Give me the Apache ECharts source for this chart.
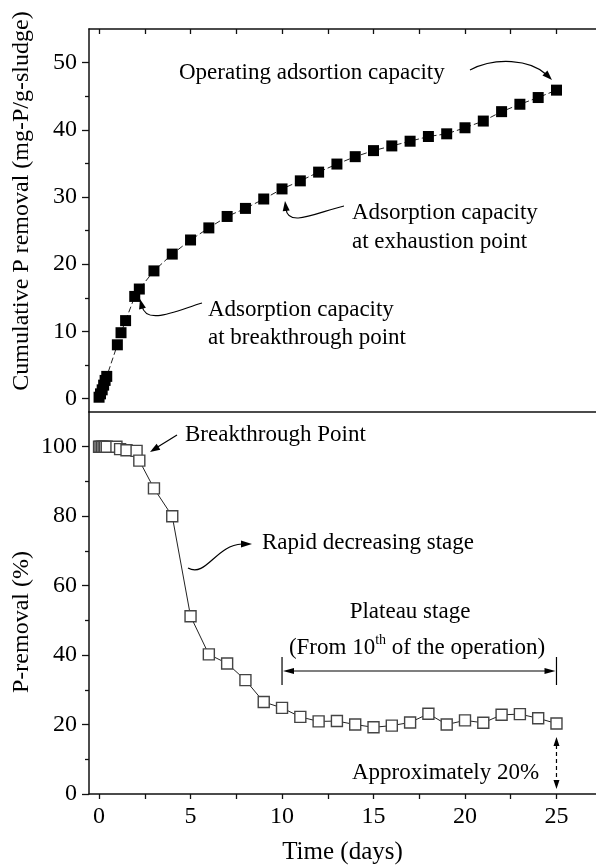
<!DOCTYPE html>
<html>
<head>
<meta charset="utf-8">
<script src="https://cdn.jsdelivr.net/npm/echarts@6/dist/echarts.min.js"></script>
<style>
  html, body { margin: 0; padding: 0; background: #fff; }
  #main { width: 596px; height: 865px; }
</style>
</head>
<body>
<div id="main"></div>
<script>
// cumulative P removal (top panel)
var capDays = [0, 0.08, 0.17, 0.25, 0.33, 0.42, 1, 1.2, 1.45, 1.95, 2.2, 3, 4, 5, 6, 7, 8, 9, 10, 11, 12, 13, 14, 15, 16, 17, 18, 19, 20, 21, 22, 23, 24, 25];
var capValues = [0.2, 0.7, 1.3, 2.0, 2.7, 3.3, 8.0, 9.8, 11.6, 15.2, 16.3, 19.0, 21.5, 23.6, 25.4, 27.1, 28.3, 29.7, 31.2, 32.4, 33.7, 34.9, 36.0, 36.9, 37.6, 38.3, 39.0, 39.4, 40.3, 41.3, 42.7, 43.8, 44.8, 45.9];
// P removal % (bottom panel)
var remDays = [0, 0.08, 0.17, 0.25, 0.33, 0.42, 0.95, 1.15, 1.5, 2.05, 2.2, 3, 4, 5, 6, 7, 8, 9, 10, 11, 12, 13, 14, 15, 16, 17, 18, 19, 20, 21, 22, 23, 24, 25];
var remValues = [100, 100, 100, 100, 100, 100, 100, 99.3, 99, 98.8, 96, 88, 80, 51.2, 40.2, 37.6, 32.8, 26.5, 24.8, 22.2, 20.9, 21.0, 20.0, 19.2, 19.7, 20.6, 23.1, 20.0, 21.2, 20.5, 22.8, 23.0, 21.8, 20.3];

var xLabelValues = [0, 5, 10, 15, 20, 25];
var xTickValues = [0, 2.5, 5, 7.5, 10, 12.5, 15, 17.5, 20, 22.5, 25];
var capMajor = [0, 10, 20, 30, 40, 50];
var capMinor = [5, 15, 25, 35, 45];
var remMajor = [0, 20, 40, 60, 80, 100];
var remMinor = [10, 30, 50, 70, 90];

var FONT = "'Liberation Serif', 'Times New Roman', serif";
var LINE = { show: true, onZero: false, lineStyle: { color: '#111', width: 1.5 } };
var TICK = { color: '#111', width: 1.3 };

var chart = echarts.init(document.getElementById('main'));

function pairs(xs, ys) {
  return xs.map(function (x, i) { return [x, ys[i]]; });
}

function majorY(grid, min, max, vals) {
  return {
    type: 'value', gridIndex: grid, position: 'left', min: min, max: max,
    axisLine: LINE,
    axisTick: { show: true, inside: false, length: 7, customValues: vals, lineStyle: TICK },
    axisLabel: { show: true, customValues: vals, margin: 12, color: '#000', fontFamily: FONT, fontSize: 24 },
    splitLine: { show: false }
  };
}
function minorY(grid, min, max, vals) {
  return {
    type: 'value', gridIndex: grid, position: 'left', min: min, max: max,
    axisLine: { show: false, onZero: false },
    axisTick: { show: true, inside: false, length: 4, customValues: vals, lineStyle: TICK },
    axisLabel: { show: false },
    splitLine: { show: false }
  };
}

var option = {
  animation: false,
  backgroundColor: '#fff',
  grid: [
    { left: 89, right: 0, top: 29, height: 383, outerBoundsMode: 'none', containLabel: false },
    { left: 89, right: 0, top: 412, height: 382, outerBoundsMode: 'none', containLabel: false }
  ],
  xAxis: [
    { // top border of upper panel
      type: 'value', gridIndex: 0, position: 'top', min: -0.55, max: 27.16,
      axisLine: LINE,
      axisTick: { show: true, inside: true, length: 5, customValues: xTickValues, lineStyle: TICK },
      axisLabel: { show: false }, splitLine: { show: false }
    },
    { // separator
      type: 'value', gridIndex: 0, position: 'bottom', min: -0.55, max: 27.16,
      axisLine: LINE, axisTick: { show: false }, axisLabel: { show: false }, splitLine: { show: false }
    },
    { // time axis
      type: 'value', gridIndex: 1, position: 'bottom', min: -0.55, max: 27.16,
      name: 'Time (days)', nameLocation: 'middle', nameGap: 46,
      nameTextStyle: { color: '#000', fontFamily: FONT, fontSize: 25 },
      axisLine: LINE,
      axisTick: { show: true, inside: false, length: 5, customValues: xTickValues, lineStyle: TICK },
      axisLabel: { show: true, customValues: xLabelValues, margin: 11, color: '#000', fontFamily: FONT, fontSize: 24 },
      splitLine: { show: false }
    }
  ],
  yAxis: [
    majorY(0, -2, 55, capMajor),
    minorY(0, -2, 55, capMinor),
    majorY(1, 0, 110, remMajor),
    minorY(1, 0, 110, remMinor)
  ],
  series: [
    {
      name: 'Cumulative P removal', type: 'line', xAxisIndex: 0, yAxisIndex: 0,
      data: pairs(capDays, capValues),
      symbol: 'rect', symbolSize: 11, showAllSymbol: true,
      itemStyle: { color: '#000' },
      lineStyle: { color: '#222', width: 1, type: [6, 3] },
      z: 3
    },
    {
      name: 'P-removal', type: 'line', xAxisIndex: 2, yAxisIndex: 2,
      data: pairs(remDays, remValues),
      symbol: 'rect', symbolSize: 11, showAllSymbol: true,
      itemStyle: { color: '#fff', borderColor: '#444', borderWidth: 1.4 },
      lineStyle: { color: '#222', width: 1 },
      z: 3
    }
  ]
};
chart.setOption(option);

// ---- annotations ----
function head(tx, ty, ang, len, w) {
  var bx = tx - Math.cos(ang) * len, by = ty - Math.sin(ang) * len;
  var nx = -Math.sin(ang) * w, ny = Math.cos(ang) * w;
  return { type: 'polygon', z: 10, shape: { points: [[tx, ty], [bx + nx, by + ny], [bx - nx, by - ny]] }, style: { fill: '#000' } };
}
function curve(x1, y1, c1x, c1y, c2x, c2y, x2, y2) {
  return { type: 'bezierCurve', z: 10, shape: { x1: x1, y1: y1, cpx1: c1x, cpy1: c1y, cpx2: c2x, cpy2: c2y, x2: x2, y2: y2 },
    style: { stroke: '#000', lineWidth: 1.2, fill: 'none' } };
}
function seg(x1, y1, x2, y2, dash) {
  return { type: 'line', z: 10, shape: { x1: x1, y1: y1, x2: x2, y2: y2 },
    style: { stroke: '#000', lineWidth: 1.2, lineDash: dash || null } };
}
function txt(x, y, s, align) {
  return { type: 'text', z: 10, x: x, y: y,
    style: { text: s, fill: '#000', font: '23px ' + FONT, textAlign: align || 'left', textVerticalAlign: 'middle' } };
}

var a10 = chart.convertToPixel({ xAxisIndex: 2, yAxisIndex: 2 }, [10, 0])[0];
var a25 = chart.convertToPixel({ xAxisIndex: 2, yAxisIndex: 2 }, [25, 0])[0];

var g = [];
// axis titles
g.push({ type: 'text', z: 10, x: 22, y: 201, rotation: Math.PI / 2,
  style: { text: 'Cumulative P removal (mg-P/g-sludge)', fill: '#000', font: '24px ' + FONT, textAlign: 'center', textVerticalAlign: 'middle' } });
g.push({ type: 'text', z: 10, x: 22, y: 622, rotation: Math.PI / 2,
  style: { text: 'P-removal (%)', fill: '#000', font: '24px ' + FONT, textAlign: 'center', textVerticalAlign: 'middle' } });

// operating capacity
g.push(txt(179, 73, 'Operating adsortion capacity'));
g.push(curve(470, 70, 495, 57, 530, 59, 547, 75));
g.push(head(552, 80, Math.PI / 4, 10, 3.5));

// exhaustion point
g.push(txt(352, 213, 'Adsorption capacity'));
g.push(txt(352, 242, 'at exhaustion point'));
g.push(curve(344, 206, 318, 212, 288, 228, 286, 209));
g.push(head(285, 201, -Math.PI / 2 - 0.12, 10, 3.5));

// breakthrough capacity
g.push(txt(208, 310, 'Adsorption capacity'));
g.push(txt(208, 338, 'at breakthrough point'));
g.push(curve(202, 303, 178, 310, 146, 326, 142, 306));
g.push(head(140, 299, -Math.PI / 2 - 0.25, 10, 3.5));

// breakthrough point
g.push(txt(185, 435, 'Breakthrough Point'));
g.push(seg(177, 435, 156, 448));
g.push(head(150, 452, Math.atan2(452 - 435, 150 - 177), 10, 3.5));

// rapid decreasing
g.push(txt(262, 543, 'Rapid decreasing stage'));
g.push(curve(188, 568, 206, 578, 216, 545, 242, 544));
g.push(head(252, 544, 0, 11, 3.5));

// plateau
g.push(txt(410, 612, 'Plateau stage', 'center'));
g.push({ type: 'text', z: 10, x: 417, y: 648, style: {
  text: '(From 10{sup|th} of the operation)', fill: '#000', font: '23px ' + FONT,
  textAlign: 'center', textVerticalAlign: 'middle', lineHeight: 30,
  rich: { sup: { fontSize: 14, fontFamily: FONT, verticalAlign: 'top', lineHeight: 30, fill: '#000' } } } });
g.push(seg(a10, 657, a10, 685));
g.push(seg(a25, 657, a25, 685));
g.push(seg(a10 + 8, 671, a25 - 8, 671));
g.push(head(a10 + 1, 671, Math.PI, 11, 3));
g.push(head(a25 - 1, 671, 0, 11, 3));

// approximately 20%
g.push(txt(352, 773, 'Approximately 20%'));
g.push(seg(a25, 745, a25, 781, [4, 3]));
g.push(head(a25, 737, -Math.PI / 2, 9, 3));
g.push(head(a25, 789, Math.PI / 2, 9, 3));

chart.setOption({ graphic: g });
</script>
</body>
</html>
